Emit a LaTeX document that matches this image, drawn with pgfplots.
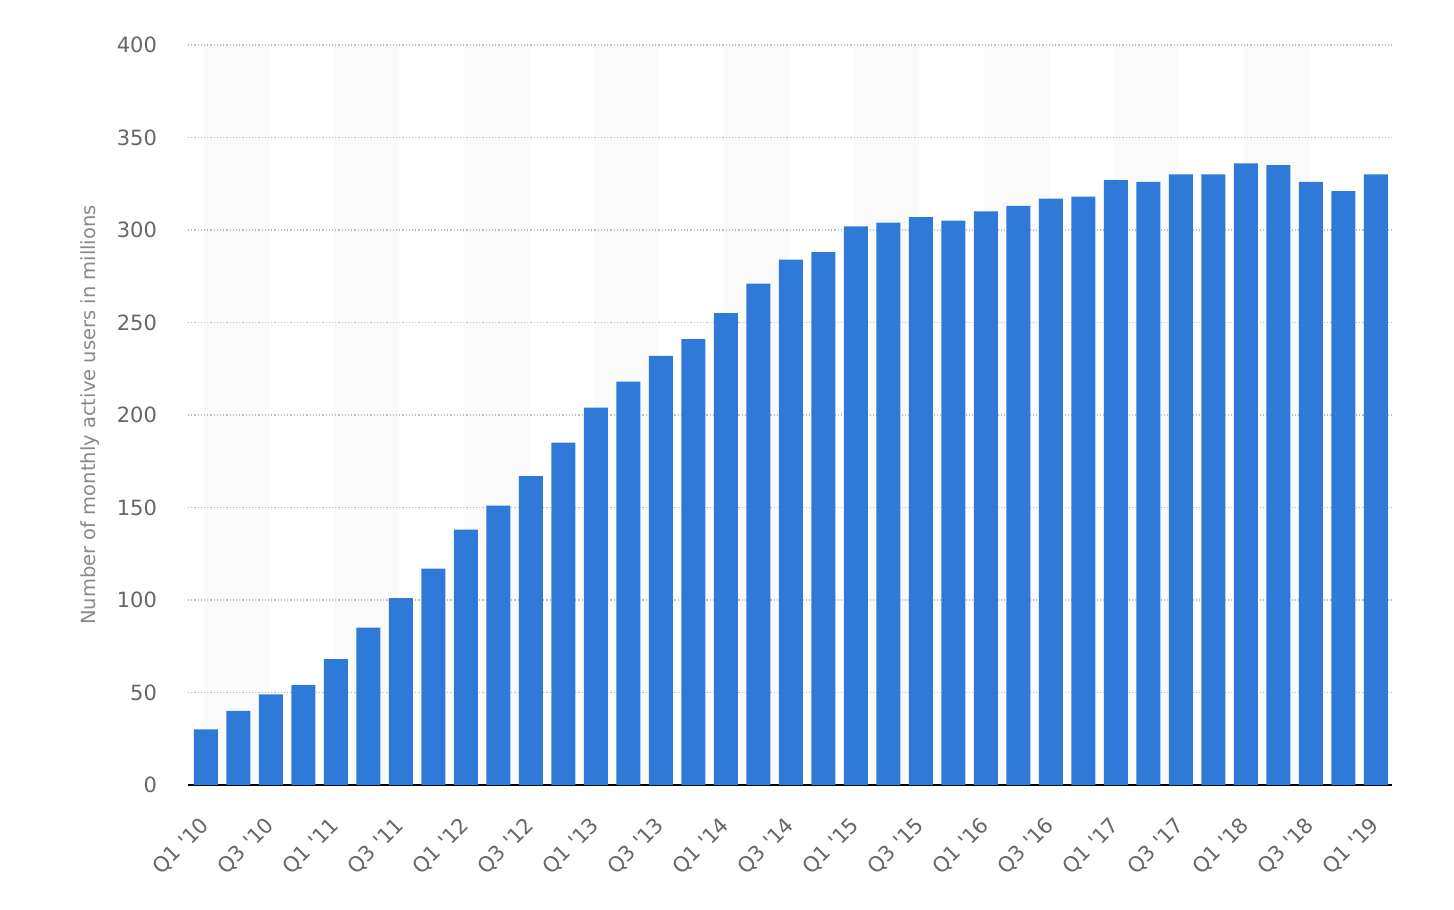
\documentclass[border=0pt]{standalone}
\usepackage{pgfplots}
\pgfplotsset{compat=1.18}
\usepackage{fontspec}
\setmainfont{DejaVu Sans}[Ligatures=TeXOff]

\definecolor{barblue}{HTML}{2F79D9}
\definecolor{bandgray}{HTML}{FAFAFA}
\definecolor{ticktext}{HTML}{666666}
\definecolor{labeltext}{HTML}{888888}
\definecolor{gridgray}{HTML}{BDBDBD}

\begin{document}
\begin{tikzpicture}
\begin{axis}[
    set layers,
    scale only axis,
    width=602bp, height=370bp,
    anchor=south west,
    xmin=-0.55, xmax=36.5,
    ymin=0, ymax=400,
    ytick={0,50,...,400},
    xtick={0,2,...,36},
    xticklabels={Q1 '10,Q3 '10,Q1 '11,Q3 '11,Q1 '12,Q3 '12,Q1 '13,Q3 '13,Q1 '14,Q3 '14,Q1 '15,Q3 '15,Q1 '16,Q3 '16,Q1 '17,Q3 '17,Q1 '18,Q3 '18,Q1 '19},
    major tick length=0pt,
    axis x line*=bottom,
    axis y line*=left,
    x axis line style={-, black, line width=1bp},
    y axis line style={draw=none},
    ymajorgrids,
    grid style={gridgray, line width=0.6bp, dash pattern=on 0.6bp off 1bp},
    tick label style={font=\fontsize{10.5bp}{12bp}\selectfont, text=ticktext},
    /pgf/number format/assume math mode=true,
    yticklabel shift=12bp,
    xticklabel style={rotate=45, anchor=east, inner sep=0pt},
    xticklabel shift=18.5bp,
    ylabel={Number of monthly active users in millions},
    every axis y label/.style={at={(rel axis cs:0,0.5)}, xshift=-49bp, rotate=90, anchor=center},
    ylabel style={font=\fontsize{9.75bp}{11bp}\selectfont, text=labeltext},
    clip=false,
]
\begin{pgfonlayer}{axis background}
\pgfplotsinvokeforeach{0,...,8}{
  \fill[bandgray] (axis cs:{4*#1-0.06},0) rectangle (axis cs:{4*#1+1.94},400);
}
\end{pgfonlayer}
\addplot[ybar, bar width=12bp, fill=barblue, draw=none] coordinates {
    (0,30) (1,40) (2,49) (3,54)
    (4,68) (5,85) (6,101) (7,117)
    (8,138) (9,151) (10,167) (11,185)
    (12,204) (13,218) (14,232) (15,241)
    (16,255) (17,271) (18,284) (19,288)
    (20,302) (21,304) (22,307) (23,305)
    (24,310) (25,313) (26,317) (27,318)
    (28,327) (29,326) (30,330) (31,330)
    (32,336) (33,335) (34,326) (35,321)
    (36,330)
};
\end{axis}
\path[use as bounding box] (-94bp,-62.5bp) rectangle (633bp,392.5bp);
\end{tikzpicture}
\end{document}
